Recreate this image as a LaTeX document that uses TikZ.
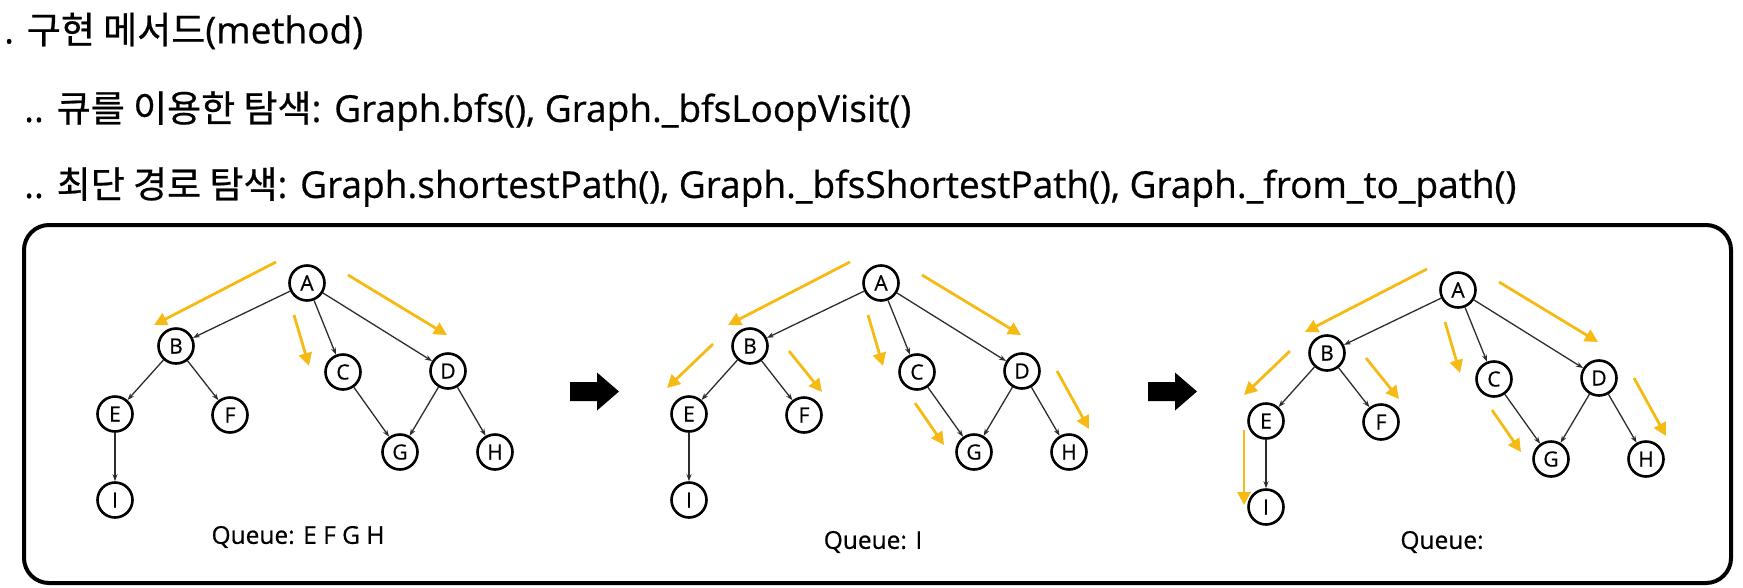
\documentclass[tikz,border=0pt]{standalone}
\usepackage{fontspec}
\setmainfont{Open Sans}[FakeBold=0.6]
\newfontfamily\kr{Noto Sans CJK KR}[FakeBold=0.6]
\usepackage{xcolor}
\usepackage{tikz}
\definecolor{visityellow}{RGB}{245, 186, 20}
\definecolor{edgegray}{RGB}{45, 45, 45}
\usetikzlibrary{arrows.meta, positioning, calc}

\begin{document}
\begin{tikzpicture}[
    x=1pt, y=-1pt,
    vertex/.style={circle, draw=black, line width=2.6pt, fill=white, minimum size=35pt, inner sep=0pt, font=\fontsize{21}{21}\selectfont},
    edge/.style={-{Stealth[length=7pt, width=5pt]}, edgegray, line width=1.3pt},
    visit/.style={-{Triangle[length=13pt, width=13pt]}, visityellow, line width=2.8pt},
    title/.style={anchor=west, inner sep=0pt, font=\fontsize{37}{37}\selectfont},
    queue/.style={inner sep=0pt, font=\fontsize{24.5}{24.5}\selectfont}
]
    \useasboundingbox (0,0) rectangle (1743,587);

    \node[title] (line1) at (4,31) {. {\kr 구현 메서드}(method)};
    \node[title] (line2) at (24,111) {.. {\kr 큐를 이용한 탐색}: Graph.bfs(), Graph.\_bfsLoopVisit()};
    \node[title] (line3) at (24,187) {.. {\kr 최단 경로 탐색}: Graph.shortestPath(), Graph.\_bfsShortestPath(), Graph.\_from\_to\_path()};

    % frame
    \draw[line width=4pt, rounded corners=25pt] (24,225) rectangle (1731,583);

    % three steps of the search
    \foreach \g/\ax/\ay in {1/307/283, 2/881/283, 3/1458/290} {
        \begin{scope}[shift={(\ax,\ay)}]
            \draw[visit] (-31,-21) -- (-153,42);
            \draw[visit] (-13,32) -- (2,83);
            \draw[visit] (41,-8) -- (140,52);
            \ifnum\g>1
                \draw[visit] (-168,61) -- (-214,105);
                \draw[visit] (-92,68) -- (-59,109);
                \draw[visit] (34,120) -- (63,162);
                \draw[visit] (176,88) -- (208,146);
            \fi
            \ifnum\g>2
                \draw[visit] (-214,140) -- (-214,215);
            \fi

            \node[vertex] (A\g) at (0,0) {A};
            \node[vertex] (B\g) at (-131,63) {B};
            \node[vertex] (C\g) at (36,89) {C};
            \node[vertex] (D\g) at (141,88) {D};
            \node[vertex] (E\g) at (-192,131) {E};
            \node[vertex] (F\g) at (-77,132) {F};
            \node[vertex] (G\g) at (93,169) {G};
            \node[vertex] (H\g) at (188,169) {H};
            \node[vertex] (I\g) at (-192,217) {I};

            \draw[edge] (A\g) -- (B\g);
            \draw[edge] (A\g) -- (C\g);
            \draw[edge] (A\g) -- (D\g);
            \draw[edge] (B\g) -- (E\g);
            \draw[edge] (B\g) -- (F\g);
            \draw[edge] (C\g) -- (G\g);
            \draw[edge] (D\g) -- (G\g);
            \draw[edge] (D\g) -- (H\g);
            \draw[edge] (E\g) -- (I\g);
        \end{scope}
    }

    \node[queue] (queue1) at (298,537) {Queue: E F G H};
    \node[queue] (queue2) at (873,542) {Queue: I};
    \node[queue] (queue3) at (1442,542) {Queue:};

    % big arrows between the steps
    \foreach \x in {570,1148} {
        \fill (\x,382) -- ({\x+27},382) -- ({\x+27},372.5) -- ({\x+49},391.5) -- ({\x+27},410.5) -- ({\x+27},401) -- (\x,401) -- cycle;
    }
\end{tikzpicture}
\end{document}
